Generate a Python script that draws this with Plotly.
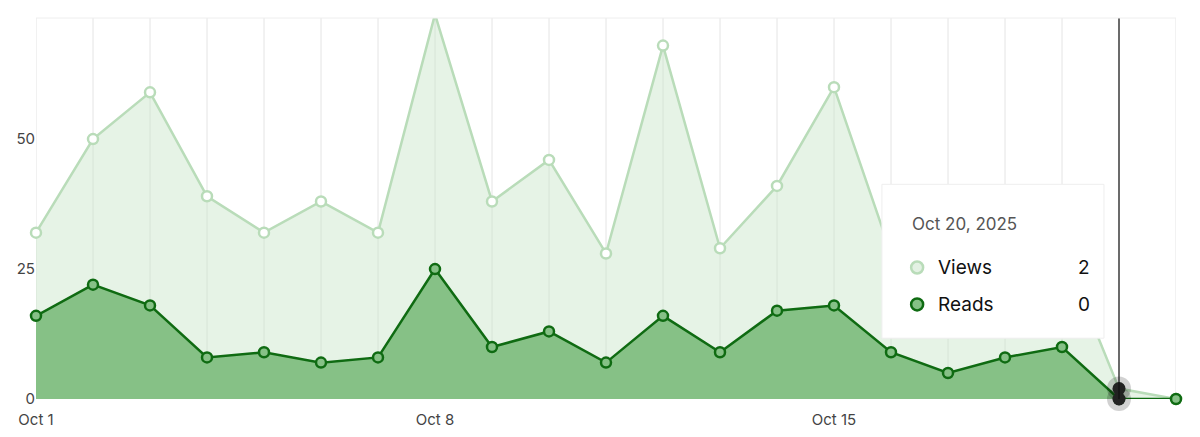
import plotly.graph_objects as go
import pandas as pd

dates = pd.date_range("2025-10-01", "2025-10-21").strftime("%Y-%m-%d").tolist()
views = [32, 50, 59, 39, 32, 38, 32, 74, 38, 46, 28, 68, 29, 41, 60, 28, 22, 25, 29, 2, 0]
reads = [16, 22, 18, 8, 9, 7, 8, 25, 10, 13, 7, 16, 9, 17, 18, 9, 5, 8, 10, 0, 0]
tick_vals = ["2025-10-01", "2025-10-08", "2025-10-15"]
tick_text = ["Oct 1", "Oct 8", "Oct 15"]
hover_date = "2025-10-20"

fig = go.Figure()
for d in dates:
    fig.add_shape(type="line", x0=d, x1=d, y0=0, y1=1, yref="paper", line=dict(color="#e4e4e4", width=1), layer="below")
fig.add_trace(go.Scatter(x=dates, y=views, mode="lines+markers", fill="tozeroy",
    fillcolor="rgba(200,228,200,0.45)", line=dict(color="#b9dcb9", width=2.5),
    marker=dict(size=10, color="white", line=dict(color="#b9dcb9", width=2.5)), cliponaxis=False))
fig.add_trace(go.Scatter(x=dates, y=reads, mode="lines+markers", fill="tozeroy",
    fillcolor="#86c186", line=dict(color="#0f6b12", width=2.5),
    marker=dict(size=10, color="#86c186", line=dict(color="#0f6b12", width=2.5)), cliponaxis=False))
fig.add_trace(go.Scatter(x=[hover_date, hover_date], y=[views[19], reads[19]], mode="markers",
    marker=dict(size=24, color="rgba(0,0,0,0.18)"), cliponaxis=False, hoverinfo="skip"))
fig.add_trace(go.Scatter(x=[hover_date, hover_date], y=[views[19], reads[19]], mode="markers",
    marker=dict(size=13, color="#222"), cliponaxis=False, hoverinfo="skip"))

fig.add_shape(type="line", x0=hover_date, x1=hover_date, y0=0, y1=1, yref="paper",
    line=dict(color="#111", width=1.2))
# tooltip
fig.add_shape(type="rect", x0="2025-10-15 20:10", x1="2025-10-19 17:40", y0=11.7, y1=41.3,
    fillcolor="white", line=dict(color="#eeeeee", width=1), layer="above")
for yv, fc, lc in [(25.3, "#e3f1e3", "#b9dcb9"), (18.2, "#86c186", "#0f6b12")]:
    fig.add_shape(type="circle", xsizemode="pixel", ysizemode="pixel", xanchor="2025-10-16 11:00",
        yanchor=yv, x0=-6, x1=6, y0=-6, y1=6, fillcolor=fc, line=dict(color=lc, width=2.5), layer="above")
fig.add_annotation(x="2025-10-16 08:00", y=33.6, text="Oct 20, 2025", showarrow=False,
    xanchor="left", font=dict(size=17, color="#555"))
fig.add_annotation(x="2025-10-19 12:30", y=25.3, text=str(views[19]), showarrow=False,
    xanchor="right", font=dict(size=19, color="#111"))
fig.add_annotation(x="2025-10-19 12:30", y=18.2, text=str(reads[19]), showarrow=False,
    xanchor="right", font=dict(size=19, color="#111"))
fig.add_annotation(x="2025-10-16 19:00", y=25.3, text="Views", showarrow=False,
    xanchor="left", font=dict(size=19, color="#111"))
fig.add_annotation(x="2025-10-16 19:00", y=18.2, text="Reads", showarrow=False,
    xanchor="left", font=dict(size=19, color="#111"))

fig.update_layout(width=1200, height=437, showlegend=False, plot_bgcolor="white", paper_bgcolor="white",
    margin=dict(l=28, r=32, t=10, b=46), font=dict(family="Inter", color="#444", size=15))
fig.update_xaxes(range=["2025-10-01", "2025-10-21"], tickmode="array", tickvals=tick_vals, ticktext=tick_text,
    showgrid=False, showline=False, zeroline=False, ticks="", ticklabelstandoff=10, automargin=False)
fig.update_yaxes(range=[0, 73.3], tickvals=[0, 25, 50], showgrid=False, zeroline=False, ticks="",
    showline=False, automargin=False)
fig.add_shape(type="line", xref="paper", yref="paper", x0=0, x1=1, y0=1, y1=1, line=dict(color="#eeeeee", width=1))
fig.write_html("out.html")
